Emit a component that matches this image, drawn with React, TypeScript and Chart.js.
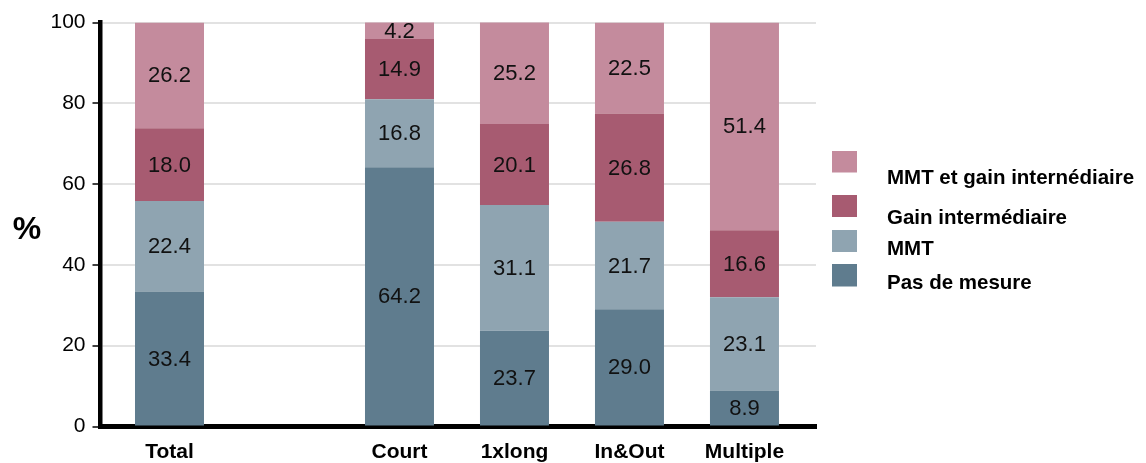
import React, { useEffect, useRef } from "react";
import { Chart, registerables } from "chart.js";

Chart.register(...registerables);

const categories = ["Total", "Court", "1xlong", "In&Out", "Multiple"];
const slots = [0, 2, 3, 4, 5];
const seriesNames = ["Pas de mesure", "MMT", "Gain intermédiaire", "MMT et gain internédiaire"];
const pasDeMesure = [33.4, 64.2, 23.7, 29.0, 8.9];
const mmt = [22.4, 16.8, 31.1, 21.7, 23.1];
const gainIntermediaire = [18.0, 14.9, 20.1, 26.8, 16.6];
const mmtEtGain = [26.2, 4.2, 25.2, 22.5, 51.4];
const seriesColors = ["#5F7C8E", "#8FA4B1", "#A75B71", "#C48B9D"];
const yTickValues = [0, 20, 40, 60, 80, 100];
const yAxisTitle = "%";

const FONT = '"Liberation Sans", Arial, Helvetica, sans-serif';

const valueLabels = {
  id: "valueLabels",
  afterDatasetsDraw(chart: any) {
    const ctx = chart.ctx;
    ctx.save();
    const a = chart.chartArea;
    ctx.beginPath();
    ctx.rect(a.left, a.top, a.right - a.left, a.bottom - a.top);
    ctx.clip();
    ctx.font = `22px ${FONT}`;
    ctx.fillStyle = "#111";
    ctx.textAlign = "center";
    ctx.textBaseline = "middle";
    chart.data.datasets.forEach((ds: any, di: number) => {
      const meta = chart.getDatasetMeta(di);
      meta.data.forEach((el: any, i: number) => {
        const v = ds.data[i].y;
        const { x, y, base } = el.getProps(["x", "y", "base"], true);
        ctx.fillText(v.toFixed(1), x, (y + base) / 2 + 1);
      });
    });
    ctx.restore();
  },
};

const customDecor = {
  id: "customDecor",
  afterDraw(chart: any) {
    const ctx = chart.ctx;
    ctx.save();
    ctx.font = `bold 32px ${FONT}`;
    ctx.fillStyle = "#000";
    ctx.textAlign = "center";
    ctx.textBaseline = "alphabetic";
    ctx.fillText(yAxisTitle, 27, 239);
    const order = [3, 2, 1, 0];
    const boxes = [151, 195, 230, 264];
    const boxH = [21.5, 22, 22, 22.5];
    const baselines = [183.5, 223.5, 255, 288.5];
    ctx.font = `bold 20.5px ${FONT}`;
    ctx.textAlign = "left";
    order.forEach((si, k) => {
      ctx.fillStyle = seriesColors[si];
      ctx.fillRect(832, boxes[k], 25, boxH[k]);
      ctx.fillStyle = "#000";
      ctx.fillText(seriesNames[si], 887, baselines[k]);
    });
    ctx.restore();
  },
};

export default function App() {
  const ref = useRef<HTMLCanvasElement | null>(null);
  useEffect(() => {
    if (!ref.current) return;
    const series = [pasDeMesure, mmt, gainIntermediaire, mmtEtGain];
    const chart = new Chart(ref.current, {
      type: "bar",
      data: {
        datasets: series.map((vals, si) => ({
          label: seriesNames[si],
          data: vals.map((v, i) => ({ x: slots[i], y: v })),
          backgroundColor: seriesColors[si],
          borderWidth: 0,
          barPercentage: 0.6,
          categoryPercentage: 1,
        })),
      },
      options: {
        responsive: false,
        animation: false,
        devicePixelRatio: 1,
        layout: { padding: { top: 22.5, right: 330, bottom: 0, left: 0 } },
        plugins: {
          legend: { display: false },
          tooltip: { enabled: false },
          title: { display: false },
        },
        scales: {
          x: {
            type: "linear",
            stacked: true,
            offset: false,
            min: -0.6,
            max: 5.622,
            grid: { display: false, drawTicks: false, offset: false },
            border: { display: true, color: "#000", width: 5 },
            afterBuildTicks: (scale: any) => {
              scale.ticks = slots.map((v) => ({ value: v }));
            },
            afterFit: (scale: any) => {
              scale.height = 36.5;
            },
            ticks: {
              autoSkip: false,
              maxRotation: 0,
              padding: 13,
              color: "#000",
              font: { family: FONT, size: 21, weight: "bold" },
              callback: (value: any) => {
                const idx = slots.indexOf(Number(value));
                return idx >= 0 ? categories[idx] : "";
              },
            },
          },
          y: {
            stacked: true,
            min: 0,
            max: 100,
            grid: {
              color: "#e2e2e2",
              lineWidth: 2,
              drawTicks: true,
              tickLength: 8,
              tickColor: "#000",
              tickWidth: 1.5,
            },
            border: { display: true, color: "#000", width: 4.5 },
            afterBuildTicks: (scale: any) => {
              scale.ticks = yTickValues.map((v) => ({ value: v }));
            },
            afterFit: (scale: any) => {
              scale.width = 100.5;
            },
            ticks: {
              padding: 7,
              color: "#000",
              font: { family: FONT, size: 21 },
            },
          },
        },
      } as any,
      plugins: [valueLabels, customDecor],
    });
    return () => chart.destroy();
  }, []);
  return (
    <div style={{ position: "fixed", left: 0, top: 0, width: 1146, height: 463, background: "#fff" }}>
      <canvas ref={ref} width={1146} height={463} style={{ display: "block" }} />
    </div>
  );
}
